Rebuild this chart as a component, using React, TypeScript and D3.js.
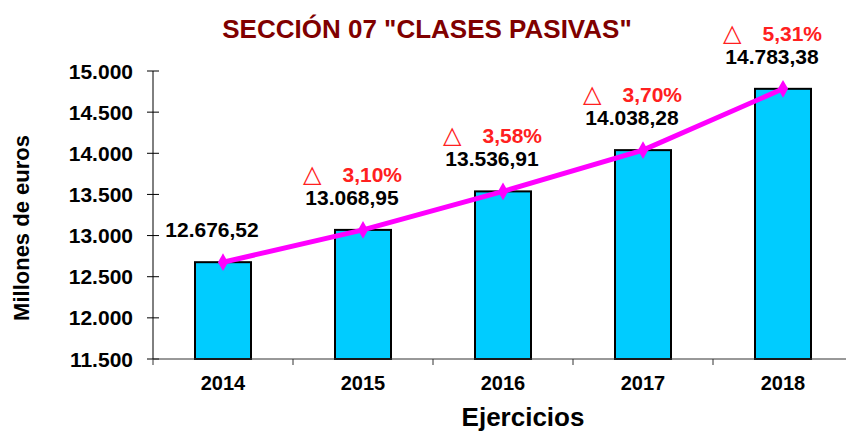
import { useRef, useEffect } from 'react'
import * as d3 from 'd3'

const WIDTH = 846
const HEIGHT = 433
const PLOT = { left: 153, right: 853, top: 71, bottom: 359 }
const FONT = '"Liberation Sans", Arial, sans-serif'

const YEARS = ['2014', '2015', '2016', '2017', '2018']
const VALUES = [12676.52, 13068.95, 13536.91, 14038.28, 14783.38]
const PCT_LABELS = ['', '3,10%', '3,58%', '3,70%', '5,31%']
const Y_TICKS = [11500, 12000, 12500, 13000, 13500, 14000, 14500, 15000]

const es = d3.formatLocale({ decimal: ',', thousands: '.', grouping: [3], currency: ['', ' €'] })
const fmtVal = es.format(',.2f')
const fmtTick = es.format(',.0f')

export default function App() {
  const svgRef = useRef<SVGSVGElement>(null)

  useEffect(() => {
    if (!svgRef.current) return
    const svg = d3.select(svgRef.current)
    svg.selectAll('*').remove()

    const x = d3.scaleBand().domain(YEARS).range([PLOT.left, PLOT.right]).paddingInner(0.6).paddingOuter(0.3)
    const y = d3.scaleLinear().domain([11500, 15000]).range([PLOT.bottom, PLOT.top])
    const cx = (i: number) => (x(YEARS[i]) ?? 0) + x.bandwidth() / 2
    const gap = (x.step() - x.bandwidth()) / 2

    // Title
    svg.append('text')
      .attr('x', 427).attr('y', 38)
      .attr('text-anchor', 'middle')
      .attr('font-family', FONT).attr('font-weight', 'bold').attr('font-size', 26)
      .attr('fill', '#800000')
      .text('SECCIÓN 07 "CLASES PASIVAS"')

    // Bars
    svg.selectAll('.bar')
      .data(VALUES)
      .join('rect')
      .attr('class', 'bar')
      .attr('x', (_, i) => x(YEARS[i]) ?? 0)
      .attr('y', (d) => y(d))
      .attr('width', x.bandwidth())
      .attr('height', (d) => PLOT.bottom - y(d))
      .attr('fill', '#00CCFF')
      .attr('stroke', '#000')
      .attr('stroke-width', 2)

    // Y axis
    svg.append('line')
      .attr('x1', PLOT.left).attr('x2', PLOT.left)
      .attr('y1', PLOT.top).attr('y2', PLOT.bottom)
      .attr('stroke', '#000').attr('stroke-width', 1)
    const yt = svg.append('g')
    yt.selectAll('line')
      .data(Y_TICKS)
      .join('line')
      .attr('x1', PLOT.left - 6).attr('x2', PLOT.left + 6)
      .attr('y1', (d) => y(d)).attr('y2', (d) => y(d))
      .attr('stroke', '#000')
    yt.selectAll('text')
      .data(Y_TICKS)
      .join('text')
      .attr('x', 133).attr('y', (d) => y(d))
      .attr('dy', '0.36em')
      .attr('text-anchor', 'end')
      .attr('font-family', FONT).attr('font-weight', 'bold').attr('font-size', 21)
      .attr('fill', '#000')
      .text((d) => fmtTick(d))

    // X axis
    svg.append('line')
      .attr('x1', PLOT.left).attr('x2', PLOT.right)
      .attr('y1', PLOT.bottom).attr('y2', PLOT.bottom)
      .attr('stroke', '#333').attr('stroke-width', 1)
    const bounds = YEARS.map((yr) => (x(yr) ?? 0) - gap).concat([PLOT.right])
    svg.append('g').selectAll('line')
      .data(bounds)
      .join('line')
      .attr('x1', (d) => d).attr('x2', (d) => d)
      .attr('y1', PLOT.bottom).attr('y2', PLOT.bottom + 6)
      .attr('stroke', '#333')
    svg.append('g').selectAll('text')
      .data(YEARS)
      .join('text')
      .attr('x', (_, i) => cx(i))
      .attr('y', 390)
      .attr('text-anchor', 'middle')
      .attr('font-family', FONT).attr('font-weight', 'bold').attr('font-size', 20)
      .attr('fill', '#000')
      .text((d) => d)

    // Axis titles
    svg.append('text')
      .attr('transform', `translate(29,228) rotate(-90)`)
      .attr('text-anchor', 'middle')
      .attr('font-family', FONT).attr('font-weight', 'bold').attr('font-size', 22)
      .attr('fill', '#000')
      .text('Millones de euros')
    svg.append('text')
      .attr('x', 523).attr('y', 426)
      .attr('text-anchor', 'middle')
      .attr('font-family', FONT).attr('font-weight', 'bold').attr('font-size', 26)
      .attr('fill', '#000')
      .text('Ejercicios')

    // Line
    const line = d3.line<number>().x((_, i) => cx(i)).y((d) => y(d))
    svg.append('path')
      .datum(VALUES)
      .attr('fill', 'none')
      .attr('stroke', '#FF00FF')
      .attr('stroke-width', 5)
      .attr('d', line)
    svg.selectAll('.dot')
      .data(VALUES)
      .join('path')
      .attr('class', 'dot')
      .attr('transform', (d, i) => `translate(${cx(i)},${y(d)})`)
      .attr('d', d3.symbol(d3.symbolDiamond, 90)())
      .attr('fill', '#FF00FF')

    // Value labels
    svg.selectAll('.val')
      .data(VALUES)
      .join('text')
      .attr('class', 'val')
      .attr('x', (_, i) => cx(i) - 11)
      .attr('y', (d) => y(d) - 25)
      .attr('text-anchor', 'middle')
      .attr('font-family', FONT).attr('font-weight', 'bold').attr('font-size', 21)
      .attr('fill', '#000')
      .text((d) => fmtVal(d))

    // Growth labels
    const pct = svg.append('g')
    PCT_LABELS.forEach((p, i) => {
      if (!p) return
      const lx = cx(i) - 11
      const ly = y(VALUES[i]) - 48
      pct.append('text')
        .attr('x', lx - 49).attr('y', ly)
        .attr('font-family', '"DejaVu Sans", sans-serif').attr('font-size', 24)
        .attr('fill', '#FF2020')
        .text('△')
      pct.append('text')
        .attr('x', lx + 50).attr('y', ly)
        .attr('text-anchor', 'end')
        .attr('font-family', FONT).attr('font-weight', 'bold').attr('font-size', 21)
        .attr('fill', '#FF2020')
        .text(p)
    })
  }, [])

  return (
    <svg
      ref={svgRef}
      width={WIDTH}
      height={HEIGHT}
      style={{ position: 'absolute', left: 0, top: 0, background: '#fff' }}
    />
  )
}
